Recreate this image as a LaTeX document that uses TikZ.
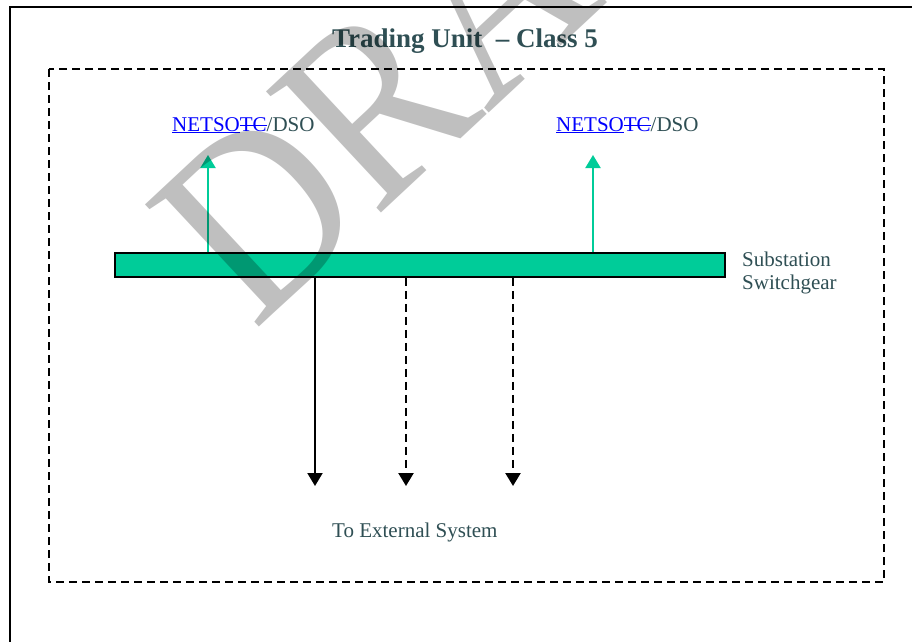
\documentclass[tikz,border=0pt]{standalone}
\usepackage{fontspec}
\setmainfont{Liberation Serif}
\usetikzlibrary{arrows.meta}
\definecolor{slate}{RGB}{47,79,84}
\definecolor{busgreen}{RGB}{0,204,153}
\definecolor{linkblue}{RGB}{0,0,255}
\newcommand\myunder[1]{\setbox0\hbox{#1}\rlap{\copy0}\rule[-2.2pt]{\wd0}{1pt}}
\newcommand\mystrike[1]{\setbox0\hbox{#1}\rlap{\copy0}\rule[5.5pt]{\wd0}{1pt}}
\tikzset{
  txt/.style={inner sep=0pt, anchor=base west, text=slate, font=\fontsize{21}{23}\selectfont},
  bus/.style={draw=black, line width=1.5pt, fill=busgreen, minimum width=610pt, minimum height=24pt, inner sep=0pt},
  uparrow/.style={draw=busgreen, line width=2pt, -{Triangle[length=13pt,width=15pt]}},
  downarrow/.style={draw=black, line width=2pt, -{Triangle[length=13pt,width=15pt]}},
  dashdown/.style={downarrow, line width=2.4pt, dash pattern=on 8pt off 5pt},
  region/.style={draw=black, line width=2.2pt, dash pattern=on 8pt off 5pt},
}
\begin{document}
\begin{tikzpicture}[x=1pt,y=-1pt]
\useasboundingbox (0,0) rectangle (912,641);
\fill[white] (0,0) rectangle (912,641);
% outer frame (runs off the page at right and bottom)
\draw[line width=1.3pt] (10,700) -- (10,7) -- (930,7);
% dashed region
\draw[region] (49,69) rectangle (884,582);
% title
\node[inner sep=0pt, anchor=base west, text=slate, font=\bfseries\fontsize{27}{30}\selectfont] (title) at (332,47) {Trading Unit \ -- Class 5};
% bus bar
\node[bus] (bar) at (420,265) {};
% labels
\node[txt] (l1) at (172,131) {\textcolor{linkblue}{\myunder{NETSO}\mystrike{TC}}/DSO};
\node[txt] (l2) at (556,131) {\textcolor{linkblue}{\myunder{NETSO}\mystrike{TC}}/DSO};
\node[txt, align=left, anchor=north west] (sw) at (742,252) {Substation\\Switchgear};
\node[txt] (ext) at (332,537) {To External System};
% up arrows
\coordinate (u1) at (208,155);
\coordinate (u2) at (593,155);
\draw[uparrow] (bar.north -| u1) -- (u1);
\draw[uparrow] (bar.north -| u2) -- (u2);
% down arrows
\coordinate (d1) at (315,486);
\coordinate (d2) at (406,486);
\coordinate (d3) at (513,486);
\draw[downarrow] (bar.south -| d1) -- (d1);
\draw[dashdown] (bar.south -| d2) -- (d2);
\draw[dashdown] (bar.south -| d3) -- (d3);
% watermark
\node[rotate=43, anchor=base west, inner sep=0pt, text=black, text opacity=0.25, font=\fontsize{255}{255}\selectfont] (wm) at (254,332) {\scalebox{0.9}[1]{DRAFT}};
\end{tikzpicture}
\end{document}
